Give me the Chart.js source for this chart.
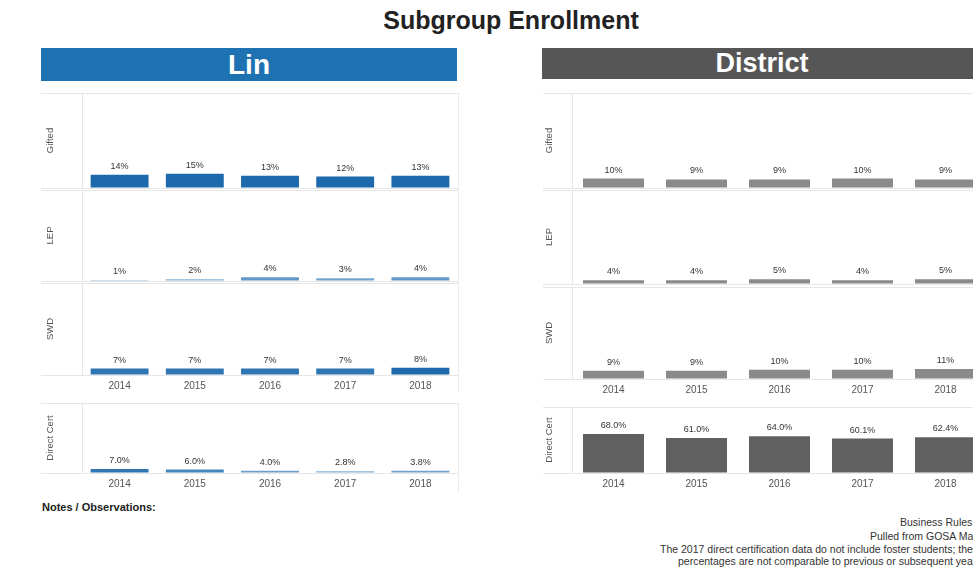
<!DOCTYPE html>
<html>
<head>
<meta charset="utf-8">
<title>Subgroup Enrollment</title>
<script src="https://cdn.jsdelivr.net/npm/chart.js@4.4.1/dist/chart.umd.min.js"></script>
<style>
  body {
    margin: 0;
    width: 973px;
    height: 579px;
    overflow: hidden;
    position: relative;
    background: #fff;
    font-family: "Liberation Sans", Arial, sans-serif;
  }
  .abs { position: absolute; }
  canvas { position: absolute; }
  #title {
    left: 0; width: 1022px; top: 6px;
    text-align: center; font-size: 25px; font-weight: bold; color: #222;
  }
  .head {
    color: #fff; font-weight: bold; text-align: center;
  }
  #linHead { left: 41px; top: 48px; width: 416px; height: 33px; line-height: 33px; font-size: 28px; background: #1f72b1; }
  #distHead { left: 542px; top: 48px; width: 440px; height: 31px; line-height: 31px; font-size: 27px; background: #565656; }
  .frame { border-right: 1px solid #ececec; }
  #notes { left: 42px; top: 501px; font-size: 11px; font-weight: bold; color: #222; }
  .foot { font-size: 10.5px; color: #333; white-space: nowrap; }
</style>
</head>
<body>
<div id="title" class="abs">Subgroup Enrollment</div>
<div id="linHead" class="abs head">Lin</div>
<div id="distHead" class="abs head">District</div>

<div class="abs frame" style="left:41px; top:93px; width:417px; height:300px;"></div>
<div class="abs frame" style="left:41px; top:403px; width:417px; height:90px;"></div>

<canvas id="linGiftedChart" width="417" height="97" style="left:41px; top:92px;"></canvas>
<canvas id="linLepChart" width="417" height="93" style="left:41px; top:189px;"></canvas>
<canvas id="linSwdChart" width="417" height="113" style="left:41px; top:282px;"></canvas>
<canvas id="linDirectChart" width="417" height="91" style="left:41px; top:402px;"></canvas>

<canvas id="distGiftedChart" width="444" height="97" style="left:543px; top:92px;"></canvas>
<canvas id="distLepChart" width="444" height="96" style="left:543px; top:189px;"></canvas>
<canvas id="distSwdChart" width="444" height="113" style="left:543px; top:286px;"></canvas>
<canvas id="distDirectChart" width="444" height="87" style="left:543px; top:406px;"></canvas>

<div id="notes" class="abs">Notes / Observations:</div>
<div class="abs foot" style="left:900px; top:516px;">Business Rules</div>
<div class="abs foot" style="left:870px; top:530px;">Pulled from GOSA Master Data</div>
<div class="abs foot" style="left:660px; top:543px;">The 2017 direct certification data do not include foster students; therefore,</div>
<div class="abs foot" style="left:678px; top:555px;">percentages are not comparable to previous or subsequent years.</div>

<script>
const years = ['2014', '2015', '2016', '2017', '2018'];

// percent of enrolled students, by school year
const linGifted = [14, 15, 13, 12, 13];
const linLep = [1, 2, 4, 3, 4];
const linSwd = [7, 7, 7, 7, 8];
const linDirectCert = [7.0, 6.0, 4.0, 2.8, 3.8];

const districtGifted = [10, 9, 9, 10, 9];
const districtLep = [4, 4, 5, 4, 5];
const districtSwd = [9, 9, 10, 10, 11];
const districtDirectCert = [68.0, 61.0, 64.0, 60.1, 62.4];

Chart.defaults.font.family = '"Liberation Sans", Arial, sans-serif';

// sequential blue ramp used for the school bars
const LIGHT = [166, 199, 227];
const DARK = [28, 106, 172];
function blueShade(lo, hi) {
  return ctx => {
    const v = ctx.raw;
    const t = Math.max(0, Math.min(1, (v - lo) / (hi - lo)));
    const c = LIGHT.map((l, i) => Math.round(l + (DARK[i] - l) * t));
    return `rgb(${c[0]}, ${c[1]}, ${c[2]})`;
  };
}

// writes the value above each bar
const valueLabels = {
  id: 'valueLabels',
  afterDatasetsDraw(chart, args, opts) {
    const ctx = chart.ctx;
    const meta = chart.getDatasetMeta(0);
    const data = chart.data.datasets[0].data;
    ctx.save();
    ctx.font = '9px "Liberation Sans", Arial, sans-serif';
    ctx.fillStyle = '#333';
    ctx.textAlign = 'center';
    ctx.textBaseline = 'alphabetic';
    meta.data.forEach((bar, i) => {
      ctx.fillText(data[i].toFixed(opts.decimals) + '%', bar.x, bar.y - 6);
    });
    ctx.restore();
  }
};

function rowChart(id, values, cfg) {
  const max = cfg.max;
  const xAxis = {
    display: !!cfg.years,
    grid: { display: false, drawTicks: false },
    border: { display: false },
    ticks: { color: '#555', font: { size: 10 }, padding: 5 }
  };
  if (cfg.years) xAxis.afterFit = s => { s.height = 20; };

  return new Chart(document.getElementById(id), {
    type: 'bar',
    data: {
      labels: years,
      datasets: [{
        data: values,
        backgroundColor: cfg.color,
        barPercentage: cfg.barWidth,
        categoryPercentage: 1
      }]
    },
    options: {
      responsive: false,
      animation: false,
      layout: { padding: { top: 1, bottom: cfg.years ? 0 : 1, left: 0, right: 0 } },
      plugins: {
        legend: { display: false },
        tooltip: { enabled: false },
        valueLabels: { decimals: cfg.decimals || 0 }
      },
      scales: {
        x: xAxis,
        y: {
          min: 0,
          max: max,
          afterBuildTicks: s => { s.ticks = [{ value: 0 }, { value: max }]; },
          afterFit: s => { s.width = cfg.axisWidth; },
          ticks: { display: false },
          grid: { color: '#e6e6e6', drawTicks: true, tickLength: cfg.axisWidth },
          border: { display: true, color: '#e6e6e6' },
          title: {
            display: true,
            text: cfg.label,
            color: '#555',
            font: { size: 9.5 },
            padding: { top: cfg.titlePad, bottom: 0 }
          }
        }
      }
    },
    plugins: [valueLabels]
  });
}

const lin = { axisWidth: 41, titlePad: 4, barWidth: 0.77 };
const dist = { axisWidth: 29, titlePad: 1, barWidth: 0.735 };

rowChart('linGiftedChart', linGifted, { ...lin, label: 'Gifted', max: 100, color: blueShade(0, 10) });
rowChart('linLepChart', linLep, { ...lin, label: 'LEP', max: 100, color: blueShade(0, 8) });
rowChart('linSwdChart', linSwd, { ...lin, label: 'SWD', max: 100, color: blueShade(0, 8), years: true });
rowChart('linDirectChart', linDirectCert, { ...lin, label: 'Direct Cert', max: 120, decimals: 1, color: blueShade(1, 8), years: true });

rowChart('distGiftedChart', districtGifted, { ...dist, label: 'Gifted', max: 100, color: '#8a8a8a' });
rowChart('distLepChart', districtLep, { ...dist, label: 'LEP', max: 100, color: '#8a8a8a' });
rowChart('distSwdChart', districtSwd, { ...dist, label: 'SWD', max: 100, color: '#8a8a8a', years: true });
rowChart('distDirectChart', districtDirectCert, { ...dist, label: 'Direct Cert', max: 115, decimals: 1, color: '#606060', years: true });
</script>
</body>
</html>
